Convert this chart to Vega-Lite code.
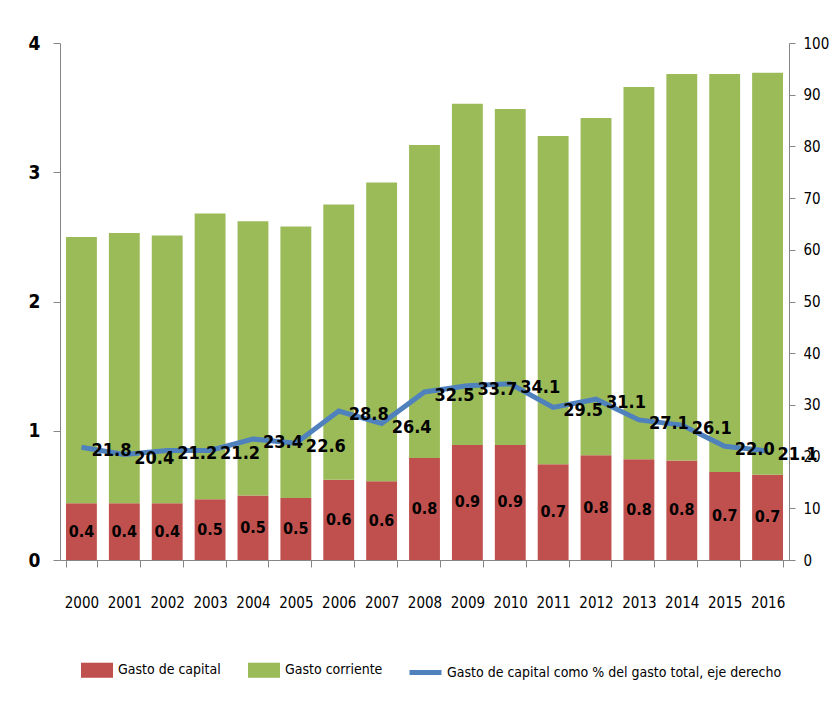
{
  "$schema": "https://vega.github.io/schema/vega-lite/v6.json",
  "width": 729,
  "height": 517,
  "autosize": {"type": "none"},
  "padding": {"left": 60, "top": 43, "right": 44, "bottom": 145},
  "background": "white",
  "config": {
    "font": "DejaVu Sans Condensed, Liberation Sans",
    "view": {"stroke": null},
    "axis": {"grid": false, "domainColor": "#868686", "tickColor": "#868686", "labelColor": "#000000", "labelFont": "DejaVu Sans Condensed, Liberation Sans"}
  },
  "data": {
    "values": [
      {"anio": "2000", "Gasto de capital": 0.44, "Gasto corriente": 2.06, "pct": 21.8},
      {"anio": "2001", "Gasto de capital": 0.44, "Gasto corriente": 2.09, "pct": 20.4},
      {"anio": "2002", "Gasto de capital": 0.44, "Gasto corriente": 2.07, "pct": 21.2},
      {"anio": "2003", "Gasto de capital": 0.47, "Gasto corriente": 2.21, "pct": 21.2},
      {"anio": "2004", "Gasto de capital": 0.50, "Gasto corriente": 2.12, "pct": 23.4},
      {"anio": "2005", "Gasto de capital": 0.48, "Gasto corriente": 2.10, "pct": 22.6},
      {"anio": "2006", "Gasto de capital": 0.62, "Gasto corriente": 2.13, "pct": 28.8},
      {"anio": "2007", "Gasto de capital": 0.61, "Gasto corriente": 2.31, "pct": 26.4},
      {"anio": "2008", "Gasto de capital": 0.79, "Gasto corriente": 2.42, "pct": 32.5},
      {"anio": "2009", "Gasto de capital": 0.89, "Gasto corriente": 2.64, "pct": 33.7},
      {"anio": "2010", "Gasto de capital": 0.89, "Gasto corriente": 2.60, "pct": 34.1},
      {"anio": "2011", "Gasto de capital": 0.74, "Gasto corriente": 2.54, "pct": 29.5},
      {"anio": "2012", "Gasto de capital": 0.81, "Gasto corriente": 2.61, "pct": 31.1},
      {"anio": "2013", "Gasto de capital": 0.78, "Gasto corriente": 2.88, "pct": 27.1},
      {"anio": "2014", "Gasto de capital": 0.77, "Gasto corriente": 2.99, "pct": 26.1},
      {"anio": "2015", "Gasto de capital": 0.68, "Gasto corriente": 3.08, "pct": 22.0},
      {"anio": "2016", "Gasto de capital": 0.66, "Gasto corriente": 3.11, "pct": 21.1}
    ]
  },
  "encoding": {
    "x": {
      "field": "anio", "type": "ordinal",
      "scale": {"paddingInner": 0.28, "paddingOuter": 0.14},
      "axis": {"title": null, "labelAngle": 0, "labelFontSize": 15, "tickSize": 7, "labelPadding": 28, "tickBand": "extent", "domainColor": "#868686"}
    }
  },
  "layer": [
    {
      "transform": [{"fold": ["Gasto de capital", "Gasto corriente"], "as": ["serie", "valor"]}],
      "mark": {"type": "bar"},
      "encoding": {
        "y": {
          "field": "valor", "type": "quantitative", "stack": "zero",
          "scale": {"domain": [0, 4], "nice": false},
          "axis": {"orient": "left", "title": null, "values": [0, 1, 2, 3, 4], "labelFontSize": 19, "labelFontWeight": "bold", "tickSize": 7, "labelPadding": 13}
        },
        "color": {
          "field": "serie", "type": "nominal",
          "scale": {"domain": ["Gasto de capital", "Gasto corriente"], "range": ["#C0504D", "#9BBB59"]},
          "legend": {
            "title": null, "orient": "none", "direction": "horizontal",
            "legendX": 21, "legendY": 611, "padding": 0,
            "symbolType": "M-1,-0.47H1V0.47H-1Z", "symbolSize": 1024, "symbolStrokeWidth": 0,
            "labelFontSize": 14, "labelColor": "#000000", "labelOffset": 5, "columnPadding": 27,
            "labelFont": "DejaVu Sans Condensed, Liberation Sans"
          }
        },
        "order": {"field": "serie", "sort": "descending"}
      }
    },
    {
      "mark": {"type": "text", "fontWeight": "bold", "fontSize": 16, "color": "#000000", "baseline": "middle"},
      "encoding": {
        "y": {"field": "Gasto de capital", "type": "quantitative", "scale": {"domain": [0, 8], "nice": false}, "axis": null},
        "text": {"field": "Gasto de capital", "type": "quantitative", "format": ".1f"}
      }
    },
    {
      "mark": {"type": "line", "strokeWidth": 5},
      "encoding": {
        "y": {
          "field": "pct", "type": "quantitative",
          "scale": {"domain": [0, 100], "nice": false},
          "axis": {"orient": "right", "title": null, "values": [0, 10, 20, 30, 40, 50, 60, 70, 80, 90, 100], "labelFontSize": 15, "tickSize": 6, "labelPadding": 8}
        },
        "stroke": {
          "datum": "Gasto de capital como % del gasto total, eje derecho",
          "scale": {"range": ["#4F81BD"]},
          "legend": {
            "title": null, "orient": "none", "legendX": 347, "legendY": 611, "padding": 0,
            "symbolType": "stroke", "symbolSize": 1024, "symbolStrokeWidth": 5,
            "labelFontSize": 14, "labelColor": "#000000", "labelOffset": 3,
            "labelFont": "DejaVu Sans Condensed, Liberation Sans", "labelLimit": 500
          }
        }
      }
    },
    {
      "mark": {"type": "text", "fontWeight": "bold", "fontSize": 18, "color": "#000000", "baseline": "middle", "dx": 30, "dy": 4},
      "encoding": {
        "y": {"field": "pct", "type": "quantitative", "scale": {"domain": [0, 100], "nice": false}, "axis": null},
        "text": {"field": "pct", "type": "quantitative", "format": ".1f"}
      }
    }
  ],
  "resolve": {"scale": {"y": "independent"}}
}
